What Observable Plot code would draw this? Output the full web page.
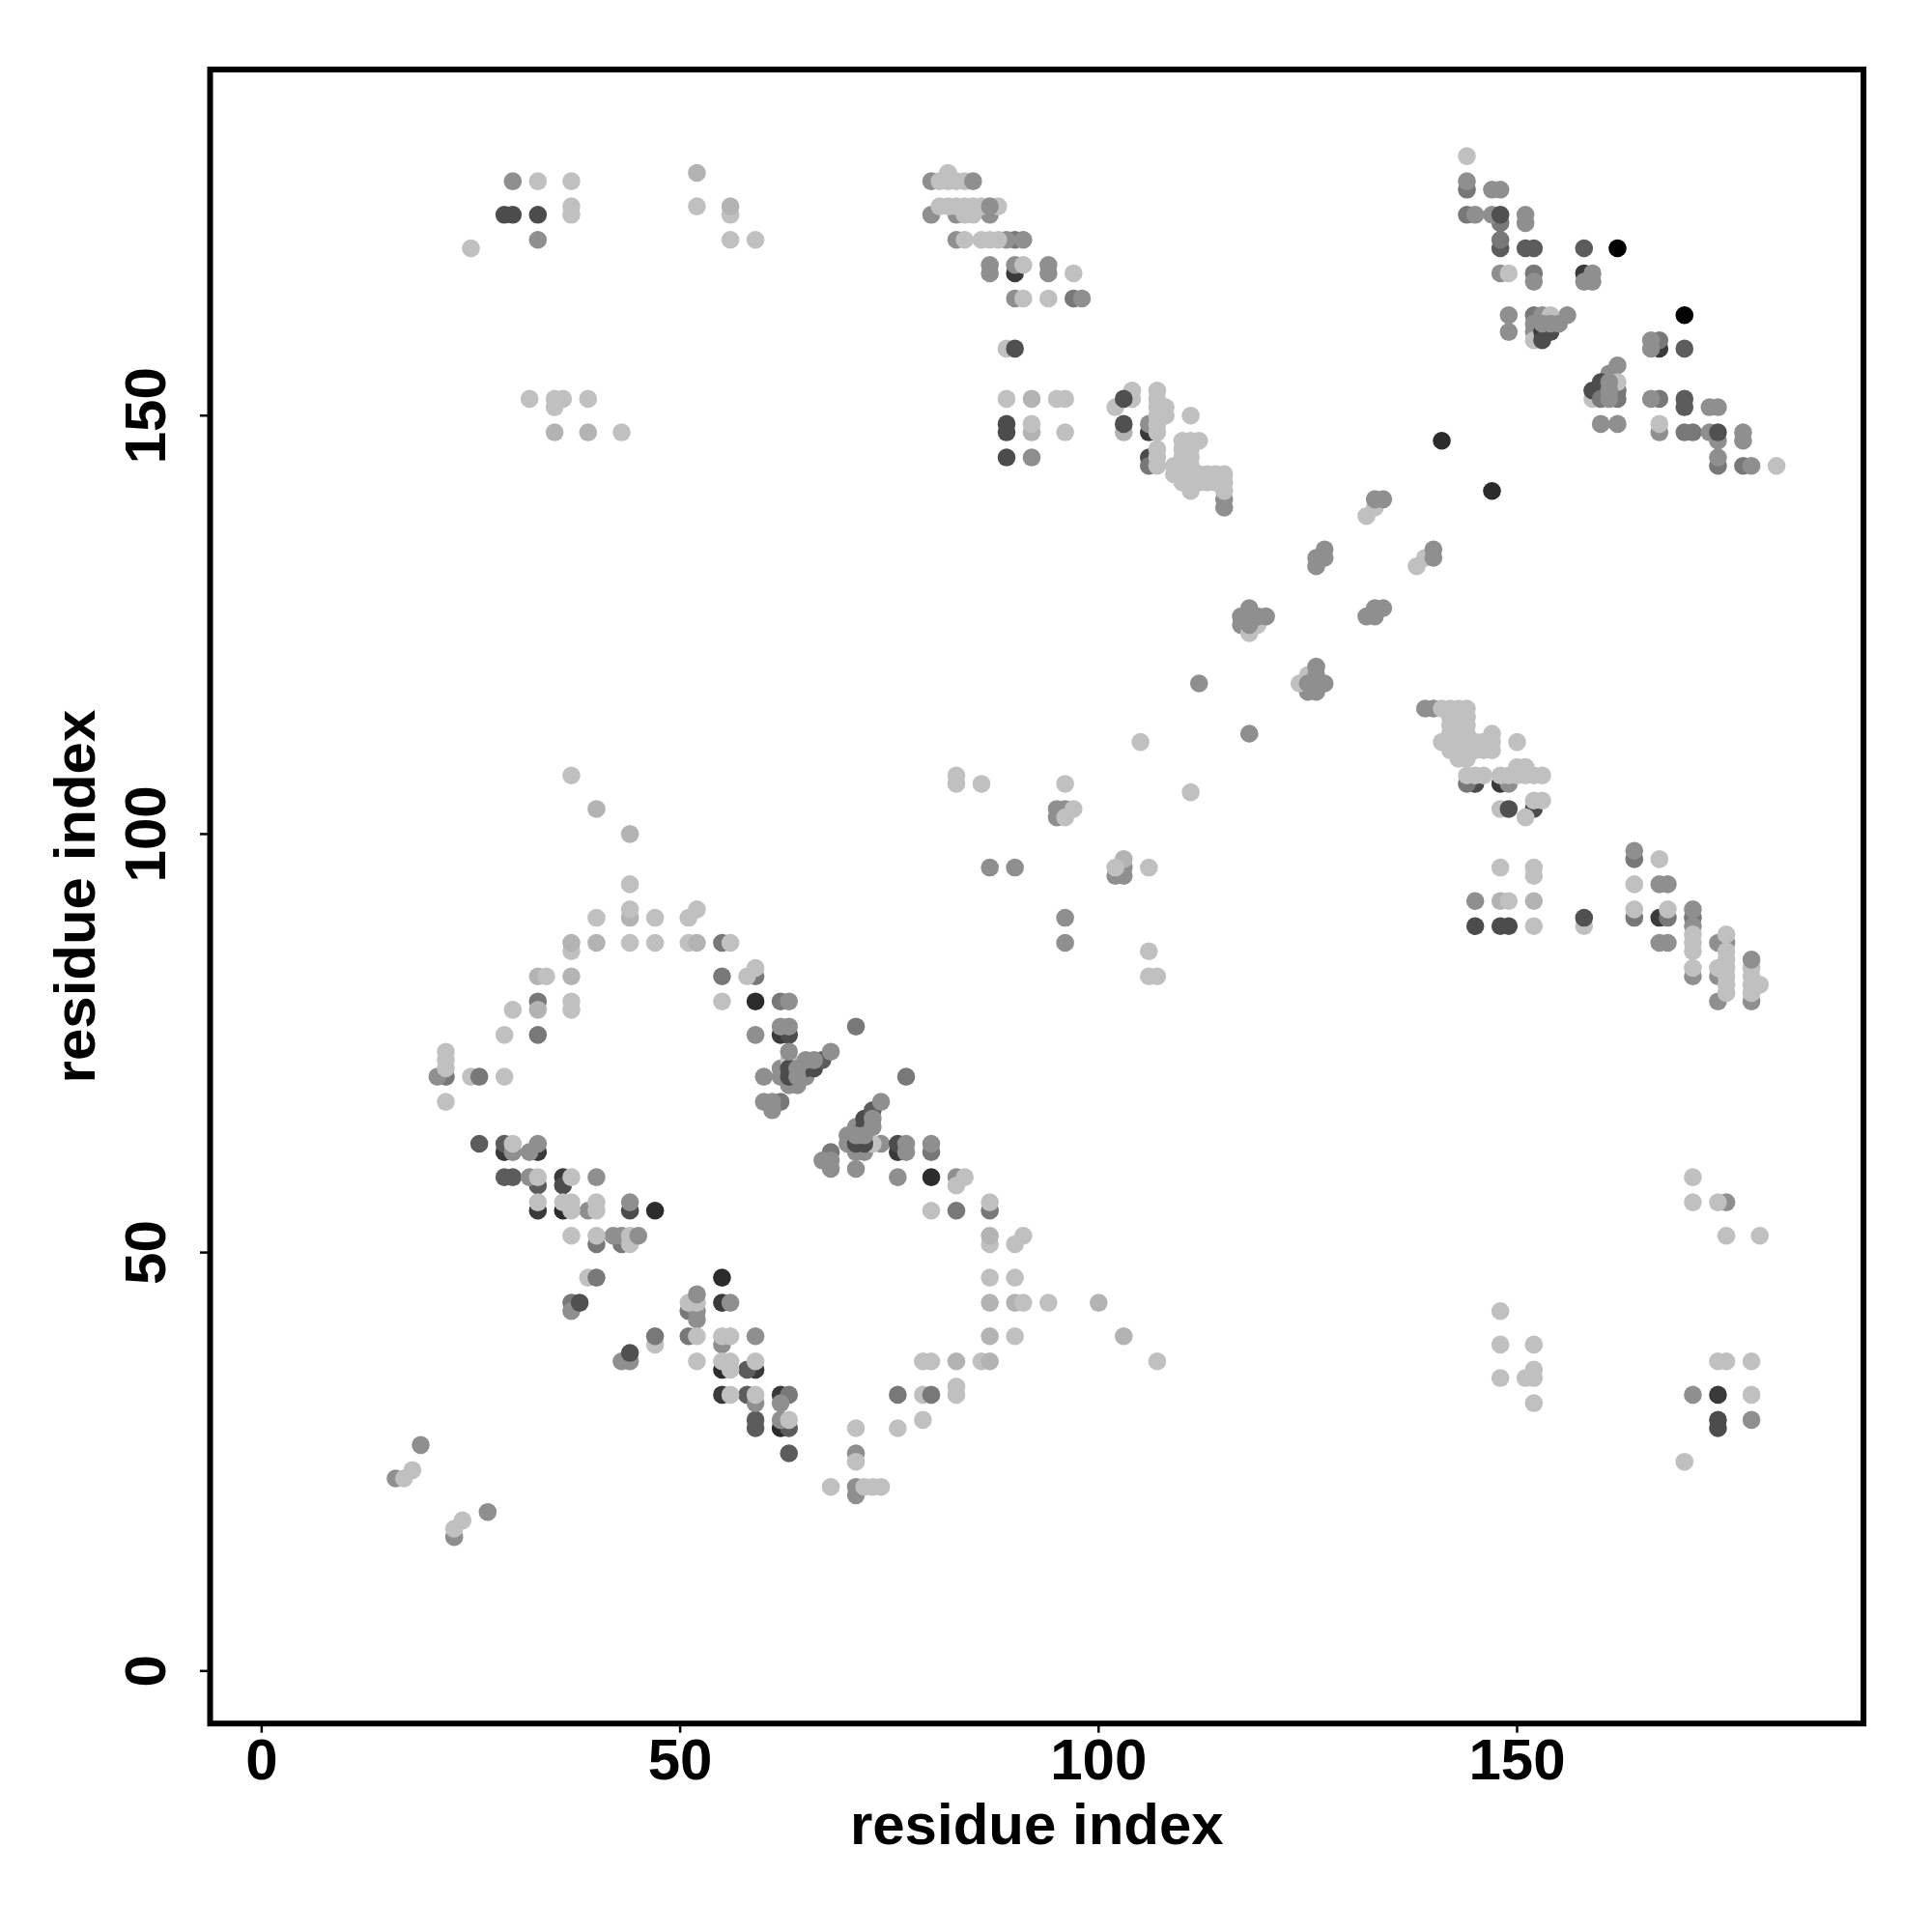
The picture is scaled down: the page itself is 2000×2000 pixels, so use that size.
<!DOCTYPE html>
<html><head><meta charset="utf-8">
<script src="https://cdn.jsdelivr.net/npm/d3@7"></script>
<script src="https://cdn.jsdelivr.net/npm/@observablehq/plot@0.6"></script>
<style>html,body{margin:0;padding:0;background:#fff}svg{display:block}</style>
</head><body><div id="c"></div>
<script>
const axisTicks = [0, 50, 100, 150];
const axisTitle = "residue index";
const contactsBlack = [[162,170],[170,162]];
const contactsK = [[141,147],[147,141],[36,55],[55,36],[47,55],[55,47],[59,80],[80,59],[62,29]];
const contactsD3 = [[90,167],[106,148],[158,167],[167,158],[148,106],[167,90],[29,62],[33,62],[33,55],[36,59],[55,44],[59,36],[55,33],[62,33],[174,33]];
const contactsD2 = [[29,174],[30,174],[33,174],[106,145],[89,145],[89,149],[89,148],[145,106],[145,89],[148,89],[149,89],[152,103],[36,58],[44,55],[174,29],[174,30]];
const contactsD1 = [[148,170],[158,170],[151,170],[152,170],[170,158],[26,63],[29,63],[29,59],[30,59],[33,58],[58,36],[58,33],[59,30],[59,29],[63,29],[63,26],[170,151],[170,152]];
const contactsM2 = [[90,171],[97,164],[106,144],[144,177],[144,174],[148,173],[148,171],[152,167],[152,162],[162,153],[162,152],[167,159],[167,152],[170,148],[171,148],[174,144],[177,144],[164,97],[164,90],[168,90],[171,90],[144,106],[22,71],[33,76],[33,80],[55,87],[55,83],[59,83],[62,80],[71,77],[77,71],[62,68],[68,62],[80,62],[83,55],[87,55],[40,51],[43,51],[37,44],[51,43],[51,40],[63,33],[76,33]];
const contactsM = [[30,178],[33,171],[80,178],[80,174],[83,174],[87,174],[83,171],[89,171],[91,171],[87,168],[87,167],[90,168],[94,168],[94,167],[90,164],[98,164],[92,145],[106,149],[115,140],[115,139],[144,178],[147,177],[148,177],[145,174],[147,174],[151,174],[151,173],[148,167],[152,166],[158,166],[159,167],[159,166],[149,162],[153,162],[156,162],[152,161],[149,160],[152,160],[166,159],[166,158],[162,156],[161,155],[166,152],[173,151],[174,151],[160,149],[162,149],[167,148],[173,148],[174,147],[177,148],[177,147],[174,145],[178,144],[127,134],[127,133],[126,133],[126,132],[118,127],[117,126],[117,125],[133,127],[134,127],[132,126],[133,126],[112,118],[125,117],[126,117],[118,112],[95,103],[96,103],[95,102],[87,96],[90,96],[103,96],[102,95],[103,95],[96,90],[96,87],[139,115],[140,115],[149,106],[164,98],[167,94],[168,94],[145,92],[171,91],[171,89],[167,87],[168,87],[174,87],[175,87],[171,83],[174,83],[174,80],[178,80],[175,56],[178,30],[171,33],[21,71],[59,76],[63,80],[62,72],[60,71],[62,71],[65,71],[63,70],[64,70],[60,68],[61,68],[61,67],[71,65],[70,64],[70,63],[74,63],[80,63],[71,62],[72,62],[67,61],[68,61],[68,60],[71,60],[76,59],[83,59],[30,62],[32,62],[33,63],[32,59],[40,59],[44,56],[39,55],[42,52],[43,52],[37,43],[56,44],[52,43],[52,42],[55,39],[59,40],[43,37],[44,37],[59,32],[62,32],[62,30],[71,26],[71,22],[71,21],[19,27],[16,23],[23,16],[27,19]];
const contactsLL = [[92,152],[92,148],[52,179],[35,148],[39,148],[103,148],[148,92],[152,92],[44,100],[40,103],[40,87],[44,90],[37,83],[33,83],[33,79],[87,44],[90,44],[100,44],[87,40],[103,40],[83,37],[103,97]];
const contactsL = [[33,178],[37,178],[37,175],[37,174],[25,170],[52,175],[56,174],[56,171],[59,171],[32,152],[35,152],[36,152],[39,152],[35,151],[43,148],[81,178],[82,178],[83,178],[84,178],[82,179],[81,175],[82,175],[83,175],[84,175],[85,175],[86,175],[88,175],[84,174],[85,174],[84,171],[86,171],[87,171],[88,171],[91,168],[97,167],[91,164],[94,164],[89,158],[89,152],[95,152],[96,152],[104,152],[104,153],[107,153],[102,151],[107,152],[107,151],[108,151],[107,150],[108,150],[111,150],[107,149],[107,148],[92,149],[96,148],[110,147],[111,147],[112,147],[110,146],[111,146],[107,146],[110,145],[111,145],[107,145],[107,144],[109,144],[110,144],[111,144],[109,143],[110,143],[111,143],[112,143],[113,143],[114,143],[115,143],[110,142],[111,142],[112,142],[113,142],[114,142],[115,142],[111,141],[115,141],[144,181],[149,167],[154,162],[152,159],[162,154],[159,152],[167,149],[181,144],[133,139],[132,138],[139,133],[138,132],[119,125],[118,124],[125,119],[124,118],[105,111],[96,106],[83,107],[83,106],[86,106],[111,105],[97,103],[96,102],[102,96],[106,96],[106,86],[106,83],[107,83],[141,115],[142,115],[143,115],[144,115],[142,114],[143,114],[144,114],[142,113],[143,113],[144,113],[142,112],[143,112],[144,112],[147,112],[141,111],[142,111],[143,111],[144,111],[145,111],[146,111],[147,111],[150,111],[142,110],[143,110],[144,110],[145,110],[146,110],[147,110],[143,109],[144,109],[150,108],[151,108],[144,107],[145,107],[146,107],[148,107],[149,107],[150,107],[151,107],[152,107],[153,107],[152,104],[153,104],[148,103],[151,102],[148,96],[152,96],[152,95],[167,97],[164,94],[149,92],[164,91],[168,91],[152,89],[158,89],[175,88],[171,88],[171,87],[171,86],[175,86],[171,84],[174,84],[175,85],[175,84],[175,83],[175,82],[175,81],[178,84],[178,83],[178,82],[179,82],[178,81],[37,107],[44,94],[44,91],[40,90],[47,90],[51,90],[52,91],[44,87],[47,87],[51,87],[56,87],[37,86],[34,83],[59,84],[58,83],[30,79],[37,80],[37,79],[55,80],[29,76],[22,74],[22,73],[22,72],[25,71],[29,71],[22,68],[63,73],[73,63],[84,59],[83,58],[80,55],[87,56],[30,63],[33,59],[37,59],[33,56],[36,56],[37,56],[40,56],[37,55],[40,55],[37,52],[40,52],[44,52],[44,51],[39,47],[51,44],[52,44],[47,39],[52,40],[55,40],[56,40],[52,37],[55,37],[56,37],[59,37],[56,36],[56,33],[59,33],[63,30],[79,37],[80,37],[83,34],[79,33],[83,33],[79,30],[71,29],[76,29],[71,25],[68,22],[72,22],[73,22],[74,22],[17,23],[18,24],[23,17],[24,18],[87,51],[91,52],[90,51],[87,47],[90,47],[91,44],[94,44],[90,40],[86,37],[107,37],[148,43],[148,39],[152,39],[148,35],[151,35],[152,35],[152,36],[152,32],[171,59],[171,56],[174,56],[175,52],[179,52],[170,25],[174,37],[175,37],[178,37],[178,33]];
const overLL = [[56,175],[37,87],[52,87],[87,52],[87,37]];
const clusterD3 = [[153,160],[160,153],[62,76],[76,62]];
const clusterD2 = [[153,159],[154,160],[159,153],[160,154],[63,71],[63,72],[65,72],[66,72],[72,66],[72,65],[71,63],[72,63],[76,63],[63,76]];
const clusterD1 = [[67,73],[73,67]];
const clusterM2 = [[160,152]];
const topMid = [[153,161],[154,161],[155,161],[161,154],[161,153],[161,152],[64,72],[64,71],[65,73],[66,73],[68,74],[73,66],[73,65],[71,64],[72,64],[74,68],[77,63],[77,62],[62,77],[63,77]];
const overMid = [[85,178],[87,175],[63,74],[52,45],[178,85],[133,140],[134,140],[140,134],[140,133],[118,126],[119,126],[120,126],[118,125],[126,120],[126,119],[125,118],[126,118],[127,118],[45,52]];
const overM2 = [[26,71],[40,47],[47,40],[80,33]];
const overDark = [[90,158],[103,152],[103,149],[148,174],[158,90],[38,44],[44,38],[149,103],[174,148]];

const order = [
  [contactsBlack,"#000000"],[contactsK,"#2c2c2c"],[contactsD3,"#3a3a3a"],[contactsD2,"#4c4c4c"],[contactsD1,"#5c5c5c"],
  [contactsM2,"#787878"],[contactsM,"#8f8f8f"],[contactsLL,"#b3b3b3"],[contactsL,"#c0c0c0"],[overLL,"#b3b3b3"],
  [clusterD3,"#3a3a3a"],[clusterD2,"#4c4c4c"],[clusterD1,"#5c5c5c"],[clusterM2,"#787878"],[topMid,"#8f8f8f"],
  [overM2,"#787878"],[overMid,"#8f8f8f"],[overDark,"#505050"]
];
const table = order.flatMap(([pts, shade]) => pts.map(([a, b]) => ({a, b, shade})));

const font = "'Liberation Sans', Arial, sans-serif";
const chart = Plot.plot({
  width: 2000, height: 2000,
  marginLeft: 217, marginRight: 71.4, marginTop: 71.4, marginBottom: 216.3,
  style: {background: "#fff", fontFamily: font, fontWeight: "bold", color: "#000", overflow: "visible"},
  x: {domain: [-6.163, 191.39]},
  y: {domain: [-6.28, 191.36]},
  marks: [
    Plot.dot(table, {x: "a", y: "b", r: 9.3, fill: d => d.shade, stroke: "none"}),
    Plot.frame({stroke: "#000", strokeWidth: 6}),
    Plot.axisX({ticks: axisTicks, tickSize: 10, tickPadding: 5, strokeWidth: 2.5, fontSize: 60, fontWeight: "bold",
      label: axisTitle, labelAnchor: "center", labelArrow: "none", labelOffset: 125}),
    Plot.axisY({ticks: axisTicks, tickSize: 10, tickPadding: 56, strokeWidth: 2.5, fontSize: 60, fontWeight: "bold",
      tickRotate: -90, textAnchor: "middle", lineAnchor: "middle",
      label: axisTitle, labelAnchor: "center", labelArrow: "none", labelOffset: 162})
  ]
});
chart.querySelectorAll("text").forEach(t => { t.style.fontWeight = "bold"; });
document.getElementById("c").appendChild(chart);
</script></body></html>
